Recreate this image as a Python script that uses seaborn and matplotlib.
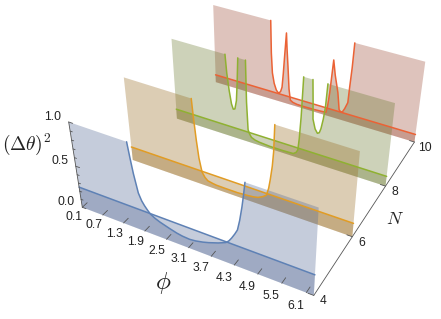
import numpy as np
import pandas as pd
import matplotlib
matplotlib.use("Agg")
import matplotlib.pyplot as plt
import seaborn as sns

sns.set_theme(style="white")
plt.rcParams["font.family"] = ["Liberation Sans", "DejaVu Sans"]
plt.rcParams["mathtext.fontset"] = "cm"

# ---- data ----
N_values = [4, 6, 8, 10]
phi_ticks = [0.1, 0.7, 1.3, 1.9, 2.5, 3.1, 3.7, 4.3, 4.9, 5.5, 6.1]
z_ticks = [0.0, 0.5, 1.0]
phi_min, phi_max = 0.1, 6.28

phi_4 = [0.1, 1.66, 1.70, 1.75, 1.83, 1.90, 1.97, 2.04, 2.11, 2.22, 2.35, 2.6, 2.8, 2.95, 3.14, 3.3, 3.5, 3.65, 3.9, 4.1, 4.18, 4.25, 4.33, 4.4, 4.46, 4.52, 4.56, 4.6, 6.28]
var_4 = [1, 1, 0.84, 0.66, 0.45, 0.37, 0.32, 0.28, 0.245, 0.215, 0.19, 0.155, 0.13, 0.118, 0.112, 0.12, 0.14, 0.16, 0.2, 0.24, 0.275, 0.32, 0.38, 0.44, 0.56, 0.72, 0.85, 1, 1]
phi_6 = [0.1, 2.0, 2.03, 2.08, 2.13, 2.2, 2.28, 2.36, 2.5, 2.6, 2.85, 3.2, 3.5, 3.65, 3.77, 3.9, 4.0, 4.06, 4.1, 4.15, 4.18, 4.2, 6.28]
var_6 = [1, 1, 0.8, 0.53, 0.32, 0.157, 0.10, 0.07, 0.058, 0.052, 0.05, 0.05, 0.06, 0.068, 0.08, 0.11, 0.145, 0.24, 0.35, 0.52, 0.69, 1, 1]
phi_8 = [0.1, 1.69, 1.73, 1.79, 1.85, 1.90, 1.95, 2.0, 2.03, 2.06, 2.28, 2.30, 2.34, 2.38, 2.44, 2.55, 2.68, 3.0, 3.38, 3.68, 3.76, 3.81, 3.84, 3.87, 3.9, 4.15, 4.18, 4.2, 4.27, 4.34, 4.39, 4.43, 4.48, 4.52, 4.55, 6.28]
var_8 = [1, 1, 0.78, 0.575, 0.42, 0.36, 0.37, 0.48, 0.7, 1, 1, 0.5, 0.155, 0.11, 0.07, 0.05, 0.04, 0.03, 0.03, 0.035, 0.06, 0.10, 0.25, 0.52, 1, 1, 0.75, 0.54, 0.43, 0.385, 0.40, 0.455, 0.58, 0.73, 1, 1]
phi_10 = [0.1, 1.89, 1.92, 1.96, 2.02, 2.09, 2.14, 2.18, 2.23, 2.27, 2.30, 2.33, 2.37, 2.40, 2.44, 2.49, 2.54, 2.62, 2.75, 3.0, 3.28, 3.5, 3.65, 3.69, 3.73, 3.79, 3.86, 3.97, 4.04, 4.09, 4.14, 4.2, 4.28, 4.3, 4.33, 4.35, 6.28]
var_10 = [1, 1, 0.6, 0.35, 0.22, 0.14, 0.115, 0.11, 0.14, 0.2, 0.38, 0.61, 0.9, 0.7, 0.49, 0.2, 0.06, 0.04, 0.03, 0.028, 0.03, 0.035, 0.04, 0.13, 0.31, 0.73, 0.55, 0.34, 0.125, 0.105, 0.11, 0.16, 0.25, 0.45, 0.7, 1, 1]
limit_4, limit_6, limit_8, limit_10 = 1 / 4, 1 / 6, 1 / 8, 1 / 10

series = [
    (10, phi_10, var_10, limit_10, "#EB6235", "#A15440"),
    (8, phi_8, var_8, limit_8, "#8FB131", "#707E37"),
    (6, phi_6, var_6, limit_6, "#E19C24", "#9B7029"),
    (4, phi_4, var_4, limit_4, "#5E81B5", "#596D98"),
]

# ---- camera: a projective 3D -> image map fitted to the box corners ----
cam_world = []
cam_image = []
corners = {
    4: [(82, 206), (314, 295), (68, 122), (319, 208)],
    6: [(132, 160), (353, 237), (125, 78), (359, 152)],
    8: [(177, 119), (386, 186), (172, 39), (395, 103)],
    10: [(216, 83), (414, 142), (213, 4), (425, 61)],
}
for n, pix in corners.items():
    for (p, z), uv in zip([(phi_min, 0), (phi_max, 0), (phi_min, 1), (phi_max, 1)], pix):
        cam_world.append((p, n, z))
        cam_image.append(uv)
A, b = [], []
for (X, Y, Z), (u, v) in zip(cam_world, cam_image):
    A.append([X, Y, Z, 1, 0, 0, 0, 0, -u * X, -u * Y, -u * Z])
    b.append(u)
    A.append([0, 0, 0, 0, X, Y, Z, 1, -v * X, -v * Y, -v * Z])
    b.append(v)
sol = np.linalg.lstsq(np.array(A, float), np.array(b, float), rcond=None)[0]
P = np.append(sol, 1.0).reshape(3, 4)


def project(phi, n, z):
    phi, n, z = np.broadcast_arrays(np.asarray(phi, float), np.asarray(n, float), np.asarray(z, float))
    h = P @ np.vstack([phi.ravel(), n.ravel(), z.ravel(), np.ones(phi.size)])
    return h[0] / h[2], h[1] / h[2]


fig = plt.figure(figsize=(4.41, 3.19), dpi=100)
ax = fig.add_axes([0, 0, 1, 1])
ax.set_xlim(0, 441)
ax.set_ylim(319, 0)
ax.axis("off")

for n, phis, vals, lim, line_c, fill_c in series:
    phis = np.array(phis)
    vals = np.array(vals, float)
    # under the curve
    xc, yc = project(phis, n, vals)
    xf, yf = project(phis[::-1], n, 0)
    ax.fill(np.r_[xc, xf], np.r_[yc, yf], color=fill_c, alpha=0.35, lw=0)
    # under the 1/N level
    ends = np.array([phi_min, phi_max])
    xl, yl = project(ends, n, lim)
    xb, yb = project(ends[::-1], n, 0)
    ax.fill(np.r_[xl, xb], np.r_[yl, yb], color=fill_c, alpha=0.35, lw=0)
    sns.lineplot(x=xl, y=yl, color=line_c, lw=1.1, ax=ax, estimator=None, sort=False, legend=False)
    # the curve, left open along the clipped plateaus
    seg = [0]
    for i in range(1, len(vals)):
        seg.append(seg[-1] + int(vals[i] >= 1 and vals[i - 1] >= 1))
    df = pd.DataFrame({"x": xc, "y": yc, "seg": seg})
    df = df[df.groupby("seg")["x"].transform("size") > 1]
    sns.lineplot(data=df, x="x", y="y", units="seg", estimator=None, sort=False,
                 color=line_c, lw=1.1, ax=ax, legend=False)

axis_c = "#555555"
tick_kw = dict(color=axis_c, lw=0.6)
label_kw = dict(fontsize=8.7, color="#222222", ha="center", va="center")

# phi axis
for p in phi_ticks:
    x, y = project([p, p], [4, 4.18], 0)
    ax.plot(x, y, **tick_kw)
    lx, ly = project(p, 4, 0)
    frac = (p - phi_min) / (phi_max - phi_min)
    ax.text(lx[0] - 11 + 3 * (1 - frac), ly[0] + 10 + 3.5 * frac, f"{p:.1f}", **label_kw)
ax.text(163, 283, r"$\phi$", fontsize=18, ha="center", va="center", color="#222222")

# N axis
x, y = project([phi_max, phi_max], [4, 10], 0)
ax.plot(x, y, **tick_kw)
for n in N_values:
    tx, ty = project([phi_max, phi_max - 0.14], n, 0)
    ax.plot(tx, ty, **tick_kw)
    ax.text(tx[0] + 9 if n < 10 else tx[0] + 10, ty[0] + 6, str(n), **label_kw)
ax.text(395, 219, r"$N$", fontsize=13, ha="center", va="center", color="#222222")

# variance axis
x, y = project([phi_min, phi_min], 4, [0, 1])
ax.plot(x, y, **tick_kw)
for z in np.arange(0, 11) / 10:
    long_tick = 0.11 if round(z * 10) % 5 == 0 else 0.06
    tx, ty = project([phi_min, phi_min + long_tick], 4, z)
    ax.plot(tx, ty, **tick_kw)
for z in z_ticks:
    lx, ly = project(phi_min, 4, z)
    ax.text(lx[0] - 16, ly[0] - 5, f"{z:.1f}", **label_kw)
ax.text(27, 144, r"$(\Delta\theta)^2$", fontsize=14, ha="center", va="center", color="#222222")

fig.savefig("out.png", dpi=100)
